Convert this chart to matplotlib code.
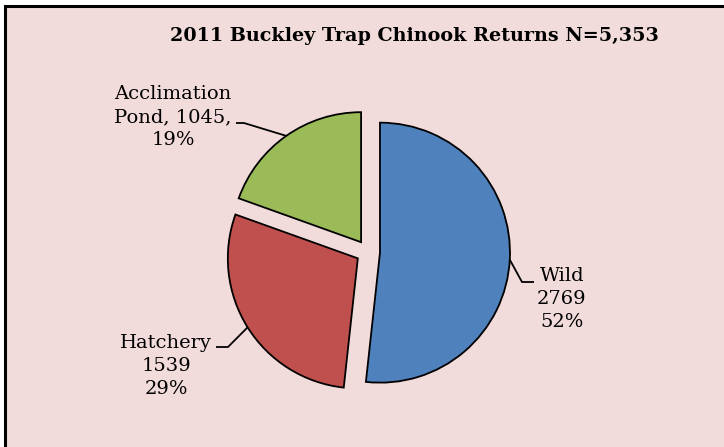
import numpy as np
import matplotlib
matplotlib.use("Agg")
import matplotlib.pyplot as plt
from matplotlib.patches import Rectangle

# data
categories = ["Wild", "Hatchery", "Acclimation Pond"]
counts = [2769, 1539, 1045]
percents = [52, 29, 19]
colors = ["#4F81BD", "#C0504D", "#9BBB59"]
title = "2011 Buckley Trap Chinook Returns N=5,353"

W, H = 724, 447


def py(y):
    # pixel row (from top) -> data y
    return H - y


fig = plt.figure(figsize=(W / 100, H / 100), dpi=100)
fig.patch.set_facecolor("white")
ax = fig.add_axes([0, 0, 1, 1])

# chart area background + border (only top/left edges visible in the crop)
ax.add_patch(Rectangle((5, -20), W + 40, py(6) + 20, facecolor="#F2DCDB",
                       edgecolor="black", linewidth=2.2, zorder=0))

wedges, _ = ax.pie(counts, colors=colors, startangle=90, counterclock=False,
                   explode=[12, 12, 12], radius=130, center=(368, py(252)),
                   wedgeprops=dict(edgecolor="black", linewidth=1.3))
ax.set_xlim(0, W)
ax.set_ylim(0, H)
ax.set_axis_off()

font = dict(family="DejaVu Serif", fontsize=14)
labels = [
    f"Wild\n{counts[0]}\n{percents[0]}%",
    f"Hatchery\n{counts[1]}\n{percents[1]}%",
    f"Acclimation\nPond, {counts[2]},\n{percents[2]}%",
]
# text centre, elbow, line end (pixels)
layout = [
    ((562, 299), (522, 282), (534, 282)),
    ((166, 366), (228, 347), (216, 347)),
    ((173, 117), (244, 123), (236, 123)),
]

for w, lab, (tpos, elbow, end) in zip(wedges, labels, layout):
    mid = np.deg2rad((w.theta1 + w.theta2) / 2)
    cx, cy = w.center
    ax_pt = (cx + w.r * np.cos(mid), cy + w.r * np.sin(mid))
    ax.plot([ax_pt[0], elbow[0], end[0]], [ax_pt[1], py(elbow[1]), py(end[1])],
            color="black", linewidth=1.3, solid_capstyle="butt")
    ax.text(tpos[0], py(tpos[1]), lab, ha="center", va="center",
            linespacing=1.35, **font)

ax.text(414, py(36), title, ha="center", va="center", fontweight="bold",
        family="DejaVu Serif", fontsize=13.8)

fig.savefig("out.png", dpi=100)
